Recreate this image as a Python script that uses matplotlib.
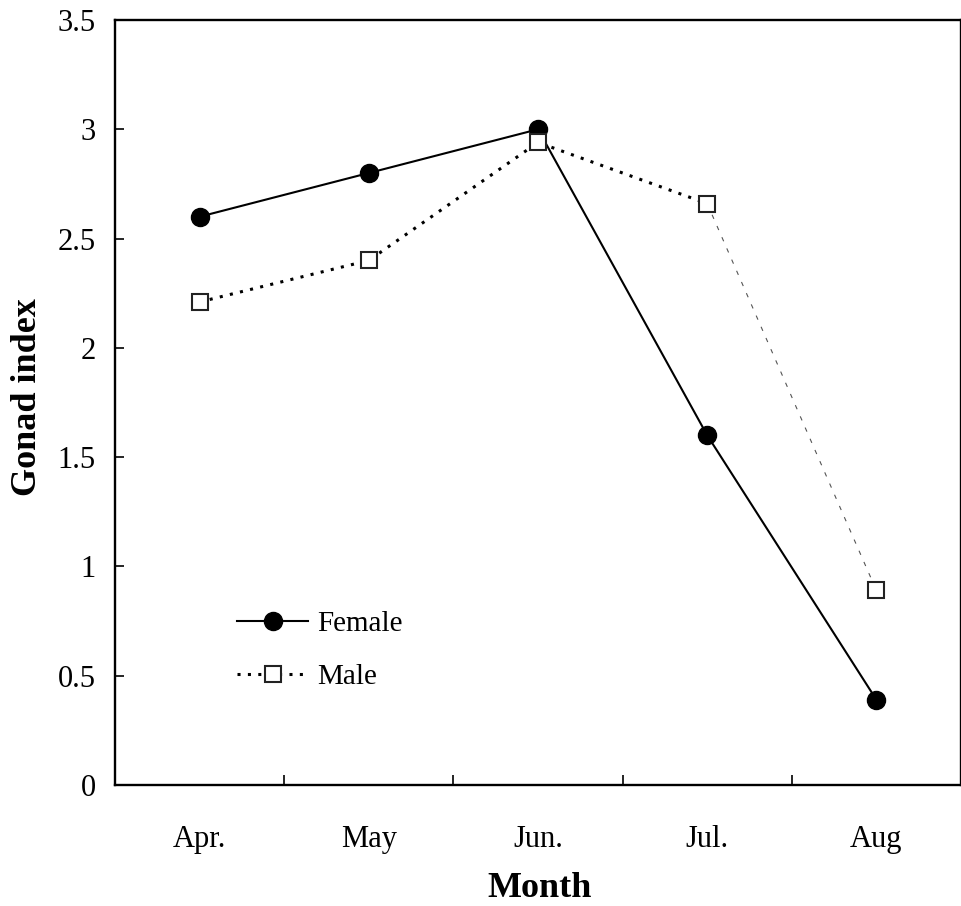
import matplotlib
matplotlib.use("Agg")
import matplotlib.pyplot as plt

months = ["Apr.", "May", "Jun.", "Jul.", "Aug"]
female = [2.60, 2.80, 3.00, 1.60, 0.39]
male = [2.21, 2.40, 2.94, 2.66, 0.89]
y_ticks = [0, 0.5, 1, 1.5, 2, 2.5, 3, 3.5]
y_tick_labels = ["0", "0.5", "1", "1.5", "2", "2.5", "3", "3.5"]

plt.rcParams['font.family'] = ['Liberation Serif', 'DejaVu Serif']

W, H = 962, 906
fig = plt.figure(figsize=(W / 100, H / 100), dpi=100)
ax = fig.add_axes([115 / W, 1 - 785 / H, (961 - 115) / W, (785 - 20) / H])

x = list(range(len(months)))

# Female
fem_line, = ax.plot(x, female, color='black', lw=1.5, marker='o', markersize=13,
                    markerfacecolor='black', markeredgecolor='black', zorder=3,
                    label='Female')

# Male: dotted for first part, thin dashed for Jul -> Aug
male_line, = ax.plot(x[:4], male[:4], color='black', lw=2.2, dashes=(1, 2.4),
                     dash_capstyle='butt', marker='s', markersize=11,
                     markerfacecolor='white', markeredgecolor='#222222',
                     markeredgewidth=1.5, zorder=4, label='Male')
ax.plot(x[3:], male[3:], color='#555555', lw=0.8, dashes=(4, 7), zorder=2)
ax.plot(x[4:], male[4:], ls='none', marker='s', markersize=11,
        markerfacecolor='white', markeredgecolor='#222222', markeredgewidth=1.5,
        zorder=4)

ax.set_xlim(-0.5, len(months) - 0.5)
ax.set_ylim(0, 3.5)

ax.set_xticks(x)
ax.set_xticklabels(months, fontsize=22)
ax.set_xticks([i + 0.5 for i in range(len(months) - 1)], minor=True)
ax.tick_params(axis='x', which='major', length=0, pad=29)
ax.tick_params(axis='x', which='minor', direction='in', length=7, width=1.2)

ax.set_yticks(y_ticks)
ax.set_yticklabels(y_tick_labels, fontsize=22)
ax.tick_params(axis='y', which='major', direction='in', length=6.5, width=1.2, pad=14)

for s in ax.spines.values():
    s.set_linewidth(1.7)

fig.text(27.5 / W, 1 - 397 / H, "Gonad index", rotation=90, ha='center', va='center',
         fontsize=26, fontweight='bold')
fig.text(540 / W, 1 - 897 / H, "Month", ha='center', va='baseline',
         fontsize=26, fontweight='bold')

leg = ax.legend(handles=[fem_line, male_line], loc='center left',
                bbox_to_anchor=(0.144, 0.176), frameon=False, fontsize=21,
                handlelength=2.45, handletextpad=0.3, labelspacing=0.93,
                borderpad=0, borderaxespad=0, numpoints=1)

fig.savefig("out.png", dpi=100)
